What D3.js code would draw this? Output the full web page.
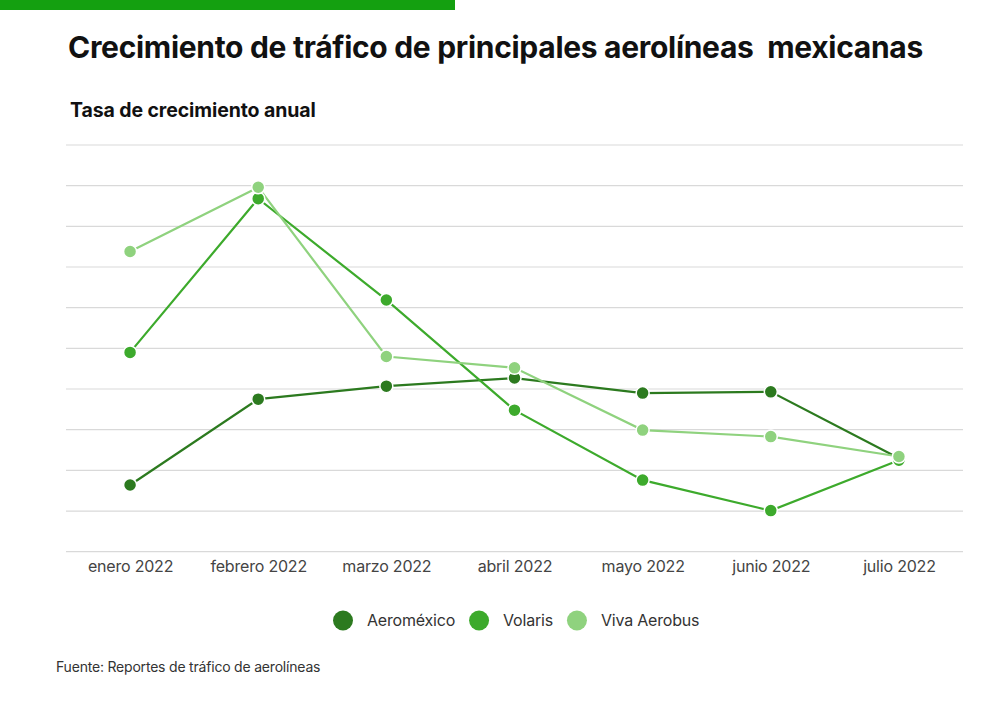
<!DOCTYPE html>
<html>
<head>
<meta charset="utf-8">
<script src="https://cdn.jsdelivr.net/npm/d3@7"></script>
<style>
  body { margin: 0; background: #fff; }
  svg { display: block; font-family: Inter, "Liberation Sans", sans-serif; }
</style>
</head>
<body>
<div id="chart"></div>
<script>
// months on the x axis
const months = ['enero 2022', 'febrero 2022', 'marzo 2022', 'abril 2022', 'mayo 2022', 'junio 2022', 'julio 2022'];

// growth values (no y labels in the original, read in grid units)
const aeromexico = [1.64, 3.75, 4.07, 4.27, 3.90, 3.93, 2.30];
const volaris = [4.90, 8.68, 6.19, 3.48, 1.76, 1.01, 2.25];
const vivaAerobus = [7.38, 8.96, 4.80, 4.52, 2.99, 2.83, 2.34];

const seriesNames = ['Aeroméxico', 'Volaris', 'Viva Aerobus'];
const seriesColors = ['#2c7a1f', '#3daa2c', '#8fd27e'];
const gridTicks = [0, 1, 2, 3, 4, 5, 6, 7, 8, 9, 10];

var w = 1000, h = 701;
var plotLeft = 66, plotRight = 963, plotTop = 145, plotBottom = 551.7;

var svg = d3.select('#chart').append('svg')
  .attr('width', w)
  .attr('height', h);

// green bar on top
svg.append('rect')
  .attr('x', 0).attr('y', 0)
  .attr('width', 455).attr('height', 10)
  .attr('fill', '#14a010');

svg.append('text')
  .attr('x', 68).attr('y', 58)
  .attr('font-size', 30)
  .attr('font-weight', 700)
  .attr('letter-spacing', -0.3)
  .attr('fill', '#111')
  .text('Crecimiento de tráfico de principales aerolíneas\u00a0 mexicanas');

svg.append('text')
  .attr('x', 70).attr('y', 117)
  .attr('font-size', 19.5)
  .attr('font-weight', 700)
  .attr('letter-spacing', -0.1)
  .attr('fill', '#111')
  .text('Tasa de crecimiento anual');

var x = d3.scalePoint()
  .domain(months)
  .range([plotLeft, plotRight])
  .padding(0.5);

var y = d3.scaleLinear()
  .domain([0, 10])
  .range([plotBottom, plotTop]);

// gridlines
svg.append('g')
  .selectAll('line')
  .data(gridTicks)
  .enter()
  .append('line')
  .attr('x1', plotLeft)
  .attr('x2', plotRight)
  .attr('y1', function(d) { return y(d); })
  .attr('y2', function(d) { return y(d); })
  .attr('stroke', '#d9d9d9')
  .attr('stroke-width', 1.2);

// x axis labels
var xAxis = svg.append('g')
  .attr('transform', 'translate(0,' + plotBottom + ')')
  .call(d3.axisBottom(x).tickSize(0).tickPadding(9));
xAxis.select('.domain').remove();
xAxis.selectAll('text')
  .attr('font-family', 'Inter, "Liberation Sans", sans-serif')
  .attr('font-size', 16)
  .attr('letter-spacing', -0.2)
  .attr('fill', '#444');

var allSeries = [aeromexico, volaris, vivaAerobus];

var line = d3.line()
  .x(function(d, i) { return x(months[i]); })
  .y(function(d) { return y(d); });

// lines
allSeries.forEach(function(values, s) {
  svg.append('path')
    .datum(values)
    .attr('d', line)
    .attr('fill', 'none')
    .attr('stroke', seriesColors[s])
    .attr('stroke-width', 2.2);
});

// points
allSeries.forEach(function(values, s) {
  svg.append('g')
    .selectAll('circle')
    .data(values)
    .enter()
    .append('circle')
    .attr('cx', function(d, i) { return x(months[i]); })
    .attr('cy', function(d) { return y(d); })
    .attr('r', 6.5)
    .attr('fill', seriesColors[s])
    .attr('stroke', '#fff')
    .attr('stroke-width', 1.5);
});

// legend, laid out from measured label widths
var legend = svg.append('g');
var cursor = 343;
seriesNames.forEach(function(name, i) {
  legend.append('circle')
    .attr('cx', cursor)
    .attr('cy', 620.5)
    .attr('r', 10)
    .attr('fill', seriesColors[i]);

  var label = legend.append('text')
    .attr('x', cursor + 24)
    .attr('y', 626)
    .attr('font-size', 16)
    .attr('letter-spacing', -0.2)
    .attr('fill', '#333')
    .text(name);

  cursor += 24 + label.node().getComputedTextLength() + 24;
});

svg.append('text')
  .attr('x', 56).attr('y', 672)
  .attr('font-size', 14)
  .attr('letter-spacing', -0.2)
  .attr('fill', '#333')
  .text('Fuente: Reportes de tráfico de aerolíneas');
</script>
</body>
</html>
